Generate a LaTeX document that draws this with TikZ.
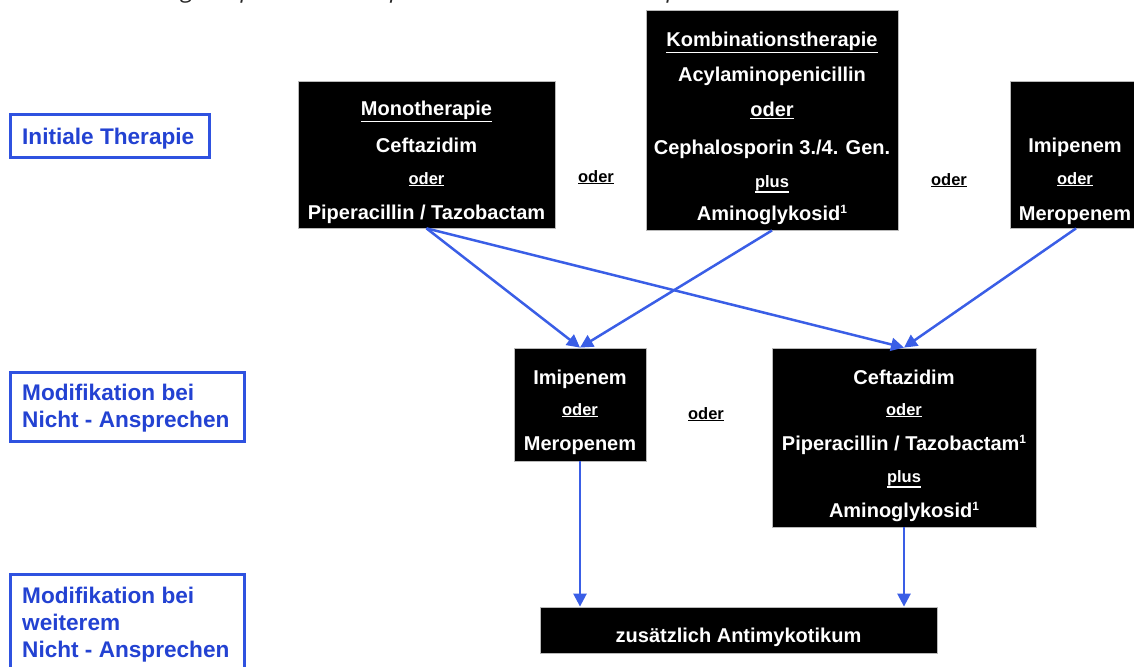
\documentclass[tikz,border=0pt]{standalone}
\usepackage{fontspec}
\setmainfont{Liberation Sans}
\newfontfamily\titlefont{Open Sans}
\usetikzlibrary{arrows.meta}
\definecolor{lblue}{HTML}{2F52E0}
\definecolor{tblue}{HTML}{2342D2}
\definecolor{ablue}{HTML}{3A5EE6}
\newcommand\myul[1]{\leavevmode\vtop{\hbox{#1}\kern0.9pt\hrule height1.3pt}}
\newcommand\supone{\raisebox{6.5pt}{\fontsize{12}{12}\selectfont 1}}
\begin{document}
\begin{tikzpicture}[x=1pt,y=-1pt,
 blk/.style={draw=gray!55, fill=black, inner sep=0pt, line width=0.8pt},
 wt/.style={text=white, font=\bfseries\fontsize{20}{24}\selectfont, anchor=base, inner sep=0pt},
 ws/.style={text=white, font=\bfseries\fontsize{16.5}{20}\selectfont, anchor=base, inner sep=0pt},
 bt/.style={text=black, font=\bfseries\fontsize{16.5}{20}\selectfont, anchor=base, inner sep=0pt},
 lab/.style={draw=lblue, line width=3pt, inner sep=0pt, fill=white},
 lt/.style={text=tblue, font=\bfseries\fontsize{22.6}{27}\selectfont, anchor=base west, inner sep=0pt},
 arr/.style={draw=ablue, line width=2.5pt, -{Triangle[length=13pt,width=13pt]}}]
\useasboundingbox (0,0) rectangle (1134,666);
\clip (0,0) rectangle (1134,666);

% partially visible title
\node[anchor=base west, inner sep=0pt, text=black!85, font=\titlefont\itshape\fontsize{24}{28}\selectfont] (title) at (66,-2) {Behandlung: empirische Therapie nach Modell der Therapie};

% left labels
\node[lab, minimum width=199pt, minimum height=42pt] (l1) at (109.5,136) {};
\node[lt] (l1t) at (22,144) {Initiale Therapie};
\node[lab, minimum width=234pt, minimum height=69pt] (l2) at (127,406.5) {};
\node[lt] (l2a) at (22,400) {Modifikation bei};
\node[lt] (l2b) at (22,427) {Nicht - Ansprechen};
\node[lab, minimum width=234pt, minimum height=110pt] (l3) at (127,629) {};
\node[lt] (l3a) at (22,603) {Modifikation bei};
\node[lt] (l3b) at (22,630) {weiterem};
\node[lt] (l3c) at (22,657) {Nicht - Ansprechen};

% top row
\node[blk, minimum width=257pt, minimum height=147pt] (mono) at (426.5,154.5) {};
\node[wt] (m1) at (426.5,116) {\myul{Monotherapie}};
\node[wt] (m2) at (426.5,152) {Ceftazidim};
\node[ws] (m3) at (426.5,184) {\myul{oder}};
\node[wt] (m4) at (426.5,219) {Piperacillin / Tazobactam};

\node[bt] (o1) at (596,182) {\myul{oder}};

\node[blk, minimum width=252pt, minimum height=220pt] (kombi) at (772,120) {};
\node[wt] (k1) at (772,47) {\myul{Kombinationstherapie}};
\node[wt] (k2) at (772,82) {Acylaminopenicillin};
\node[wt] (k3) at (772,117) {\myul{oder}};
\node[wt] (k4) at (772,154) {Cephalosporin 3./4. Gen.};
\node[ws] (k5) at (772,187) {\myul{plus}};
\node[wt] (k6) at (772,220) {Aminoglykosid\supone};

\node[bt] (o2) at (949,185) {\myul{oder}};

\node[blk, minimum width=132pt, minimum height=147pt] (imi1) at (1076,154.5) {};
\node[wt] (i1) at (1075,152) {Imipenem};
\node[ws] (i2) at (1075,184) {\myul{oder}};
\node[wt] (i3) at (1075,220) {Meropenem};

% middle row
\node[blk, minimum width=132pt, minimum height=113pt] (imi2) at (580,404.5) {};
\node[wt] (j1) at (580,384) {Imipenem};
\node[ws] (j2) at (580,415) {\myul{oder}};
\node[wt] (j3) at (580,450) {Meropenem};

\node[bt] (o3) at (706,419) {\myul{oder}};

\node[blk, minimum width=264pt, minimum height=179pt] (cef) at (904,437.5) {};
\node[wt] (c1) at (904,384) {Ceftazidim};
\node[ws] (c2) at (904,415) {\myul{oder}};
\node[wt] (c3) at (904,450) {Piperacillin / Tazobactam\supone};
\node[ws] (c4) at (904,482) {\myul{plus}};
\node[wt] (c5) at (904,517) {Aminoglykosid\supone};

% bottom
\node[blk, minimum width=397pt, minimum height=46pt] (anti) at (738.5,630) {};
\node[wt] (a1) at (738.5,642) {zusätzlich Antimykotikum};

% arrows
\draw[arr] (mono.south) -- (imi2.north);
\draw[arr] (mono.south) -- (cef.north);
\draw[arr] (kombi.south) -- (imi2.north);
\draw[arr] (imi1.south) -- (cef.north);
\draw[arr] (imi2.south) -- (imi2.south |- anti.north);
\draw[arr] (cef.south) -- (cef.south |- anti.north);
\end{tikzpicture}
\end{document}
